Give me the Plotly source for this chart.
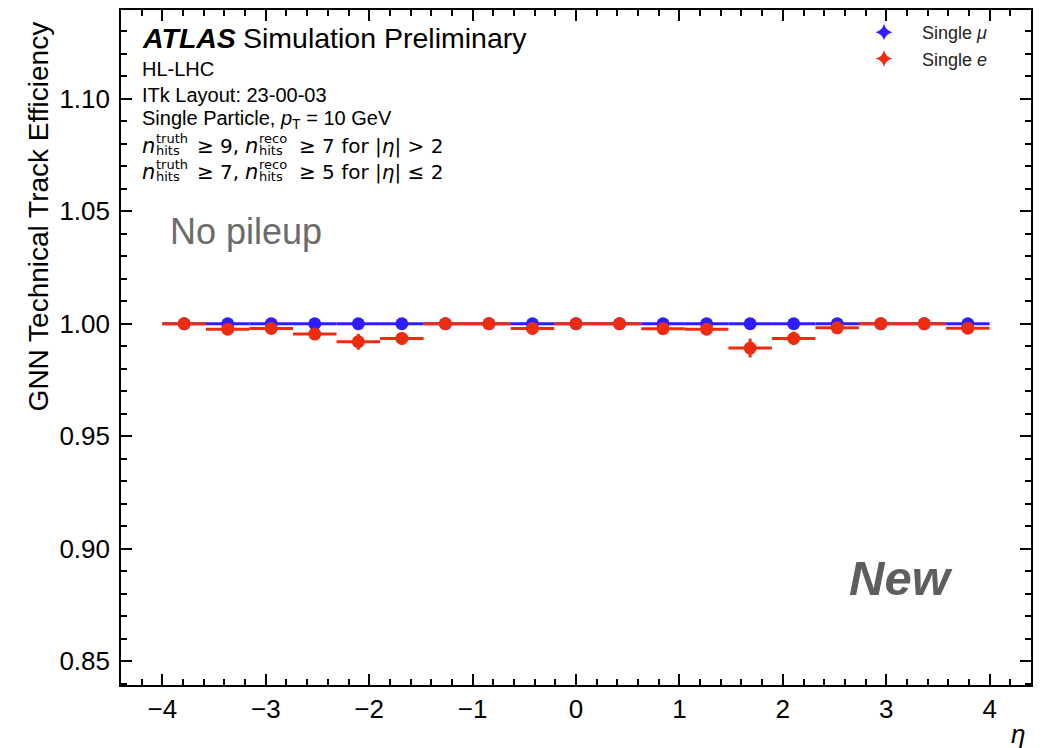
import plotly.graph_objects as go

# ---------------- data ----------------
eta_centers = [-3.789, -3.368, -2.947, -2.526, -2.105, -1.684, -1.263, -0.842, -0.421, 0.0,
               0.421, 0.842, 1.263, 1.684, 2.105, 2.526, 2.947, 3.368, 3.789]
eta_halfwidth = [0.2105] * 19
eff_mu = [1.000, 1.000, 1.000, 1.000, 1.000, 1.000, 1.000, 1.000, 1.000, 1.000,
          1.000, 1.000, 1.000, 1.000, 1.000, 1.000, 1.000, 1.000, 1.000]
err_mu = [0.0] * 19
eff_e = [1.000, 0.9976, 0.9979, 0.9954, 0.9920, 0.9935, 1.000, 1.000, 0.9979, 1.000,
         1.000, 0.9978, 0.9976, 0.9892, 0.9935, 0.9982, 1.000, 1.000, 0.9980]
err_e = [0.0, 0.001, 0.001, 0.0022, 0.0035, 0.0028, 0.0, 0.0, 0.001, 0.0,
         0.0, 0.001, 0.001, 0.0042, 0.0030, 0.001, 0.0, 0.0, 0.001]

BLUE = "#2f1cff"
RED = "#ee2c10"
SANS = "Liberation Sans, Arial, Helvetica, sans-serif"
DJV = "DejaVu Sans, sans-serif"

W, H = 1043, 748
L, R, T, B = 121, 1031, 8, 685
XR = [-4.4, 4.4]
YR = [0.8394, 1.1395]

fig = go.Figure()
fig.add_trace(go.Scatter(
    x=eta_centers, y=eff_mu, mode="markers", showlegend=False,
    marker=dict(color=BLUE, size=13, symbol="circle"),
    error_x=dict(type="data", array=eta_halfwidth, color=BLUE, thickness=3, width=0),
    error_y=dict(type="data", array=err_mu, color=BLUE, thickness=3, width=0),
))
fig.add_trace(go.Scatter(
    x=eta_centers, y=eff_e, mode="markers", showlegend=False,
    marker=dict(color=RED, size=13, symbol="circle"),
    error_x=dict(type="data", array=eta_halfwidth, color=RED, thickness=3, width=0),
    error_y=dict(type="data", array=err_e, color=RED, thickness=3, width=0),
))
# invisible copy of the muon series on the top/right overlay axes (makes those axes render)
fig.add_trace(go.Scatter(
    x=eta_centers, y=eff_mu, mode="markers", showlegend=False, hoverinfo="skip",
    xaxis="x2", yaxis="y2", marker=dict(color=BLUE, size=1, opacity=0),
))
# legend entries
fig.add_trace(go.Scatter(x=[None], y=[None], mode="markers", name="\u2003Single <i>\u03bc</i>",
                         marker=dict(color=BLUE, size=18, symbol="star-diamond")))
fig.add_trace(go.Scatter(x=[None], y=[None], mode="markers", name="\u2003Single <i>e</i>",
                         marker=dict(color=RED, size=18, symbol="star-diamond")))


def px(x):
    return (x - L) / (R - L)


def py(y):
    return (B - y) / (B - T)


def txt(x, y, s, size, family=SANS, color="black", xanchor="left", yanchor="middle", angle=0):
    fig.add_annotation(x=px(x), y=py(y), xref="paper", yref="paper", text=s, showarrow=False,
                       xanchor=xanchor, yanchor=yanchor, textangle=angle,
                       font=dict(size=size, family=family, color=color))


txt(140, 36, "<b><i>ATLAS</i></b>", 28.5)
txt(241, 36, "Simulation Preliminary", 28.5)
txt(140, 67, "HL-LHC", 20)
txt(140, 93, "ITk Layout: 23-00-03", 20)
txt(140, 118, "Single Particle, <i>p</i><sub>T</sub> = 10 GeV", 20)

# n_hits lines (stacked sub/superscripts)
for yb, a, tail in [(144, "\u2265 9,", "\u2265 7 for |<i>\u03b7</i>| > 2"),
                    (170, "\u2265 7,", "\u2265 5 for |<i>\u03b7</i>| \u2264 2")]:
    txt(140, yb, "<i>n</i>", 21, DJV)
    txt(154, yb - 7, "truth", 13, DJV)
    txt(154, yb + 5, "hits", 13, DJV)
    txt(195, yb, a, 20, DJV)
    txt(243, yb, "<i>n</i>", 21, DJV)
    txt(257, yb - 7, "reco", 13, DJV)
    txt(257, yb + 5, "hits", 13, DJV)
    txt(297, yb, tail, 20, DJV)

txt(168, 230, "No pileup", 36, color="#6b6b6b")
txt(955, 578, "<b><i>New</i></b>", 49, color="#5e5e5e", xanchor="right")
txt(38, 215, "GNN Technical Track Efficiency", 28, angle=-90, xanchor="center")
txt(1018, 734, "<i>\u03b7</i>", 26, xanchor="center")

axis_common = dict(showline=True, linecolor="black", linewidth=1.6, mirror="allticks",
                   ticks="inside", ticklen=11, tickwidth=1.6, tickcolor="black",
                   showgrid=False, zeroline=False,
                   tickfont=dict(size=26, family=SANS, color="black"))
overlay_common = dict(showline=False, ticks="inside", ticklen=6, tickwidth=1.6,
                      tickcolor="black", showgrid=False, zeroline=False, showticklabels=False,
                      tickmode="linear")

fig.update_layout(
    width=W, height=H,
    margin=dict(l=L, r=W - R, t=T, b=H - B),
    paper_bgcolor="white", plot_bgcolor="white",
    showlegend=True,
    xaxis=dict(range=XR, tickmode="linear", tick0=0, dtick=1,
               minor=dict(tickmode="linear", tick0=0, dtick=0.2, ticks="inside", ticklen=6,
                          tickwidth=1.6, tickcolor="black", showgrid=False),
               **axis_common),
    yaxis=dict(range=YR, tickmode="linear", tick0=0.85, dtick=0.05, tickformat=".2f",
               ticklabelstandoff=4,
               minor=dict(tickmode="linear", tick0=0.8, dtick=0.01, ticks="inside", ticklen=6,
                          tickwidth=1.6, tickcolor="black", showgrid=False),
               **axis_common),
    xaxis2=dict(range=XR, overlaying="x", side="top", anchor="y2", tick0=0, dtick=0.2,
                **overlay_common),
    yaxis2=dict(range=YR, overlaying="y", side="right", anchor="x2", tick0=0.8, dtick=0.01,
                **overlay_common),
    legend=dict(x=px(864), y=py(12), xanchor="left", yanchor="top", bgcolor="rgba(0,0,0,0)",
                font=dict(size=18, family=SANS, color="#222"), tracegroupgap=0,
                itemsizing="constant"),
)

fig.write_html("out.html", config={"displayModeBar": False},
               post_script="document.body.style.margin='0px';")
